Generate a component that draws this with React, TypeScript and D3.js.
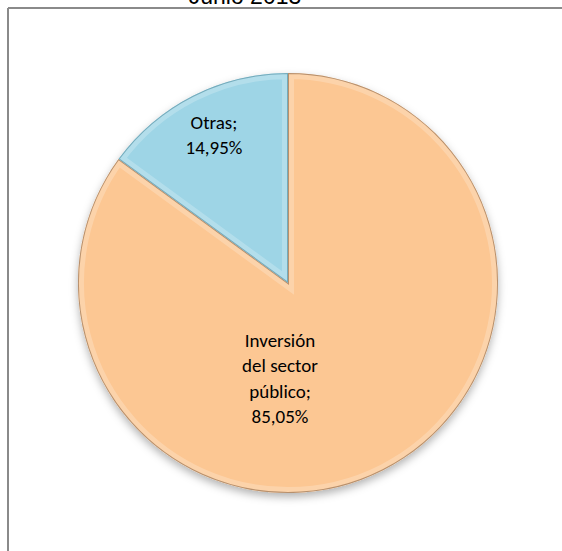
import React from "react";
import * as d3 from "d3";

const categories = ["Inversión del sector público", "Otras"];
const values = [85.05, 14.95];
const labelLines = [
  ["Inversión", "del sector", "público;", "85,05%"],
  ["Otras;", "14,95%"],
];
const colors = ["#FCC793", "#9ED5E6"];
const edgeColors = ["#a07a58", "#5f9aab"];
const title = "Junio 2013";

const W = 562;
const H = 551;
const cx = 288;
const cy = 283;
const R = 210;

export default function App() {
  const pie = d3.pie<number>().sort(null).value((d) => d)(values);
  const arc = d3.arc<d3.PieArcDatum<number>>().innerRadius(0).outerRadius(R);
  const labelPos = [
    [280, 347],
    [214, 129],
  ];
  return (
    <svg
      width={W}
      height={H}
      style={{ position: "fixed", left: 0, top: 0, background: "#fff", overflow: "hidden" }}
    >
      <defs>
        <filter id="sh" x="-20%" y="-20%" width="140%" height="140%">
          <feDropShadow dx="0" dy="4" stdDeviation="4" floodColor="#000" floodOpacity="0.3" />
        </filter>
        {pie.map((p, i) => (
          <clipPath id={`clip${i}`} key={i}>
            <path d={arc(p) || ""} />
          </clipPath>
        ))}
      </defs>
      <text
        x={245}
        y={4}
        textAnchor="middle"
        fontFamily="Liberation Sans, Arial, sans-serif"
        fontSize={23}
        fill="#000"
      >
        {title}
      </text>
      <line x1={8} y1={8} x2={W} y2={8} stroke="#8a8a8a" strokeWidth={2} />
      <line x1={8} y1={8} x2={8} y2={H} stroke="#8a8a8a" strokeWidth={2} />
      <g transform={`translate(${cx},${cy})`}>
        <g filter="url(#sh)">
          {pie.map((p, i) => (
            <path key={i} d={arc(p) || ""} fill={colors[i]} />
          ))}
        </g>
        {pie.map((p, i) => (
          <g key={"b" + i} clipPath={`url(#clip${i})`}>
            <path
              d={arc(p) || ""}
              fill="none"
              stroke="#fff"
              strokeWidth={12}
              opacity={0.22}
            />
            <path
              d={arc(p) || ""}
              fill="none"
              stroke={edgeColors[i]}
              strokeWidth={2}
              opacity={0.75}
            />
          </g>
        ))}
      </g>
      {labelLines.map((lines, i) => (
        <text
          key={categories[i]}
          textAnchor="middle"
          fontFamily="Carlito, Lato, 'Open Sans', sans-serif"
          fontSize={19}
          fill="#000"
        >
          {lines.map((l, j) => (
            <tspan key={j} x={labelPos[i][0]} y={labelPos[i][1] + j * 25.3}>
              {l}
            </tspan>
          ))}
        </text>
      ))}
    </svg>
  );
}
